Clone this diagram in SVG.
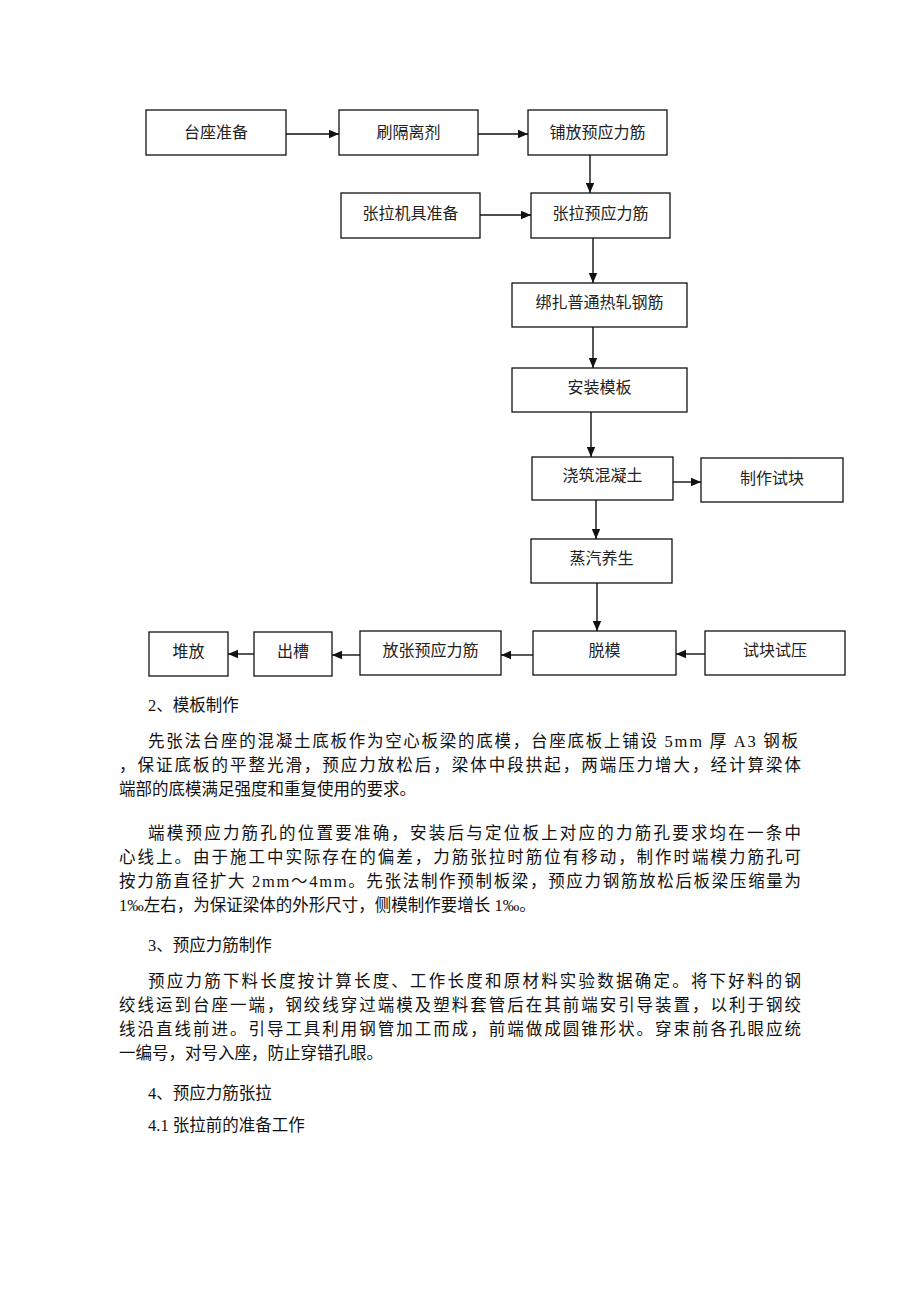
<svg xmlns="http://www.w3.org/2000/svg" width="920" height="1302" viewBox="0 0 920 1302">
<style>
.box{fill:none;stroke:#111;stroke-width:1.3}
.bt{font-family:"Liberation Serif","Noto Sans CJK SC",serif;font-size:16px;fill:#222;text-anchor:middle}
.c{stroke:#111;stroke-width:1.4;fill:none;marker-end:url(#ah)}
.p{font-family:"Liberation Serif","Noto Sans CJK SC",serif;font-size:16.5px;fill:#111}
</style>
<defs>
<marker id="ah" markerUnits="userSpaceOnUse" markerWidth="10" markerHeight="10" refX="10" refY="5" orient="auto">
<path d="M0,0.8 L10,5 L0,9.2 Z" fill="#111"/>
</marker>
</defs>
<rect width="920" height="1302" fill="#fff"/>
<g id="n1"><rect class="box" x="146" y="110" width="140" height="45"/><text class="bt" x="216" y="138">台座准备</text></g>
<g id="n2"><rect class="box" x="339" y="110" width="139" height="45"/><text class="bt" x="408.5" y="138">刷隔离剂</text></g>
<g id="n3"><rect class="box" x="528" y="110" width="139" height="45"/><text class="bt" x="597.5" y="138">铺放预应力筋</text></g>
<g id="n4"><rect class="box" x="341" y="193" width="139" height="45"/><text class="bt" x="410.5" y="219">张拉机具准备</text></g>
<g id="n5"><rect class="box" x="531" y="193" width="139" height="45"/><text class="bt" x="600.5" y="219">张拉预应力筋</text></g>
<g id="n6"><rect class="box" x="512" y="283" width="175" height="44"/><text class="bt" x="599.5" y="308">绑扎普通热轧钢筋</text></g>
<g id="n7"><rect class="box" x="512" y="368" width="175" height="44"/><text class="bt" x="599.5" y="393">安装模板</text></g>
<g id="n8"><rect class="box" x="532" y="457" width="141" height="43"/><text class="bt" x="602.5" y="481">浇筑混凝土</text></g>
<g id="n9"><rect class="box" x="701" y="458" width="142" height="44"/><text class="bt" x="772" y="484">制作试块</text></g>
<g id="n10"><rect class="box" x="531" y="539" width="141" height="44"/><text class="bt" x="601.5" y="564">蒸汽养生</text></g>
<g id="n11"><rect class="box" x="149" y="632" width="79" height="44"/><text class="bt" x="188.5" y="657">堆放</text></g>
<g id="n12"><rect class="box" x="254" y="632" width="78" height="44"/><text class="bt" x="293" y="657">出槽</text></g>
<g id="n13"><rect class="box" x="360" y="631" width="141" height="44"/><text class="bt" x="430.5" y="656">放张预应力筋</text></g>
<g id="n14"><rect class="box" x="533" y="631" width="143" height="44"/><text class="bt" x="604.5" y="656">脱模</text></g>
<g id="n15"><rect class="box" x="705" y="631" width="140" height="44"/><text class="bt" x="775" y="656">试块试压</text></g>
<g id="connectors">
<path class="c" d="M286,134 L339,134"/>
<path class="c" d="M478,134 L528,134"/>
<path class="c" d="M590,155 L590,193"/>
<path class="c" d="M480,215 L531,215"/>
<path class="c" d="M593,238 L593,283"/>
<path class="c" d="M593,327 L593,368"/>
<path class="c" d="M591,412 L591,457"/>
<path class="c" d="M673,482 L701,482"/>
<path class="c" d="M596,500 L596,539"/>
<path class="c" d="M597,583 L597,631"/>
<path class="c" d="M705,654 L676,654"/>
<path class="c" d="M533,655 L501,655"/>
<path class="c" d="M360,655 L332,655"/>
<path class="c" d="M254,654 L228,654"/>
</g>
<g id="body">
<text class="p" x="148" y="711">2、模板制作</text>
<text class="p" x="148" y="747" textLength="650" lengthAdjust="spacing">先张法台座的混凝土底板作为空心板梁的底模，台座底板上铺设 5mm 厚 A3 钢板</text>
<text class="p" x="119" y="771" textLength="682" lengthAdjust="spacing">，保证底板的平整光滑，预应力放松后，梁体中段拱起，两端压力增大，经计算梁体</text>
<text class="p" x="119" y="795">端部的底模满足强度和重复使用的要求。</text>
<text class="p" x="148" y="839" textLength="653" lengthAdjust="spacing">端模预应力筋孔的位置要准确，安装后与定位板上对应的力筋孔要求均在一条中</text>
<text class="p" x="119" y="863" textLength="682" lengthAdjust="spacing">心线上。由于施工中实际存在的偏差，力筋张拉时筋位有移动，制作时端模力筋孔可</text>
<text class="p" x="119" y="887" textLength="682" lengthAdjust="spacing">按力筋直径扩大 2mm～4mm。先张法制作预制板梁，预应力钢筋放松后板梁压缩量为</text>
<text class="p" x="119" y="911">1‰左右，为保证梁体的外形尺寸，侧模制作要增长 1‰。</text>
<text class="p" x="148" y="951">3、预应力筋制作</text>
<text class="p" x="148" y="987" textLength="653" lengthAdjust="spacing">预应力筋下料长度按计算长度、工作长度和原材料实验数据确定。将下好料的钢</text>
<text class="p" x="119" y="1011" textLength="682" lengthAdjust="spacing">绞线运到台座一端，钢绞线穿过端模及塑料套管后在其前端安引导装置，以利于钢绞</text>
<text class="p" x="119" y="1035" textLength="682" lengthAdjust="spacing">线沿直线前进。引导工具利用钢管加工而成，前端做成圆锥形状。穿束前各孔眼应统</text>
<text class="p" x="119" y="1059">一编号，对号入座，防止穿错孔眼。</text>
<text class="p" x="148" y="1099">4、预应力筋张拉</text>
<text class="p" x="148" y="1131">4.1 张拉前的准备工作</text>
</g>
</svg>
